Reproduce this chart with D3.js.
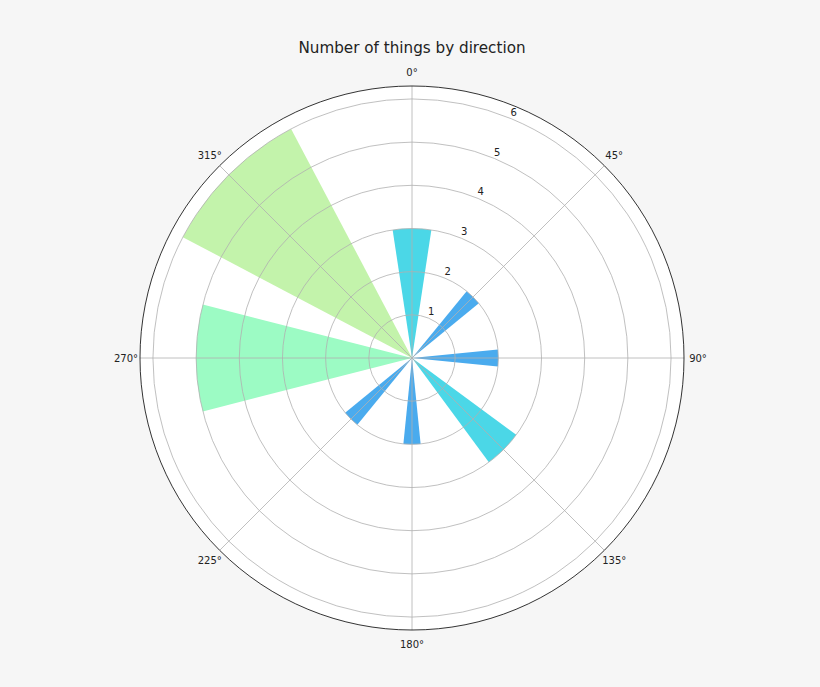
<!DOCTYPE html>
<html>
<head>
<meta charset="utf-8">
<script src="https://cdn.jsdelivr.net/npm/d3@7"></script>
<style>
  body { margin: 0; background: #f6f6f6; }
  text { font-family: "DejaVu Sans", sans-serif; fill: #222; }
</style>
</head>
<body>
<div id="chart"></div>
<script>
// bar directions (degrees), counts and angular widths (radians)
var directions = [0, 45, 90, 135, 180, 225, 270, 315];
var counts = [3, 2, 2, 3, 2, 2, 5, 6];
var widths = [0.3, 0.2, 0.2, 0.3, 0.2, 0.2, 0.5, 0.6];
var angleTicks = [0, 45, 90, 135, 180, 225, 270, 315];
var radialTicks = [1, 2, 3, 4, 5, 6];

function init(){
    var w = 820;
    var h = 687;
    var cx = 412, cy = 358, R = 272;

    var svg = d3.select("#chart")
                .append("svg")
                .attr("width", w)
                .attr("height", h);

    svg.append("rect")
        .attr("width", w)
        .attr("height", h)
        .attr("fill", "#f6f6f6");

    var r = d3.scaleLinear()
                .domain([0, 6.3])
                .range([0, R]);

    var color = d3.scaleOrdinal()
                .domain([2, 3, 5, 6])
                .range(["#4aabee", "#4bd7e7", "#9cfbc4", "#c3f3ab"]);

    var g = svg.append("g")
                .attr("transform", "translate(" + cx + "," + cy + ")");

    g.append("circle")
        .attr("r", R)
        .attr("fill", "#ffffff");

    var arc = d3.arc()
                .innerRadius(0)
                .outerRadius(function(d, i){ return r(counts[i]); })
                .startAngle(function(d, i){ return d * Math.PI / 180 - widths[i] / 2; })
                .endAngle(function(d, i){ return d * Math.PI / 180 + widths[i] / 2; });

    g.selectAll("path.bar")
        .data(directions)
        .enter()
        .append("path")
        .attr("class", "bar")
        .attr("d", arc)
        .attr("fill", function(d, i){ return color(counts[i]); });

    // radial grid (drawn over the bars, like the original)
    g.selectAll("circle.grid")
        .data(radialTicks)
        .enter()
        .append("circle")
        .attr("class", "grid")
        .attr("r", function(d){ return r(d); })
        .attr("fill", "none")
        .attr("stroke", "#b0b0b0")
        .attr("stroke-width", 0.8);

    // angular grid
    g.selectAll("line.grid")
        .data(angleTicks)
        .enter()
        .append("line")
        .attr("x1", 0)
        .attr("y1", 0)
        .attr("x2", function(d){ return R * Math.sin(d * Math.PI / 180); })
        .attr("y2", function(d){ return -R * Math.cos(d * Math.PI / 180); })
        .attr("stroke", "#b0b0b0")
        .attr("stroke-width", 0.8);

    // outer frame
    g.append("circle")
        .attr("r", R)
        .attr("fill", "none")
        .attr("stroke", "#000")
        .attr("stroke-width", 0.8);

    // angle labels
    g.selectAll("text.ang")
        .data(angleTicks)
        .enter()
        .append("text")
        .attr("x", function(d){ return (R + 14) * Math.sin(d * Math.PI / 180); })
        .attr("y", function(d){ return -(R + 14) * Math.cos(d * Math.PI / 180); })
        .attr("text-anchor", "middle")
        .attr("dy", "0.35em")
        .style("font-size", "10px")
        .text(function(d){ return d + "°"; });

    // radial labels at 22.5 degrees
    var la = 22.5 * Math.PI / 180;
    g.selectAll("text.rad")
        .data(radialTicks)
        .enter()
        .append("text")
        .attr("x", function(d){ return (r(d) + 7) * Math.sin(la); })
        .attr("y", function(d){ return -(r(d) + 7) * Math.cos(la); })
        .attr("text-anchor", "middle")
        .attr("dy", "0.35em")
        .style("font-size", "10px")
        .text(function(d){ return d; });

    svg.append("text")
        .attr("x", cx)
        .attr("y", 53)
        .attr("text-anchor", "middle")
        .style("font-size", "15.2px")
        .text("Number of things by direction");
}
window.onload = init;
</script>
</body>
</html>
